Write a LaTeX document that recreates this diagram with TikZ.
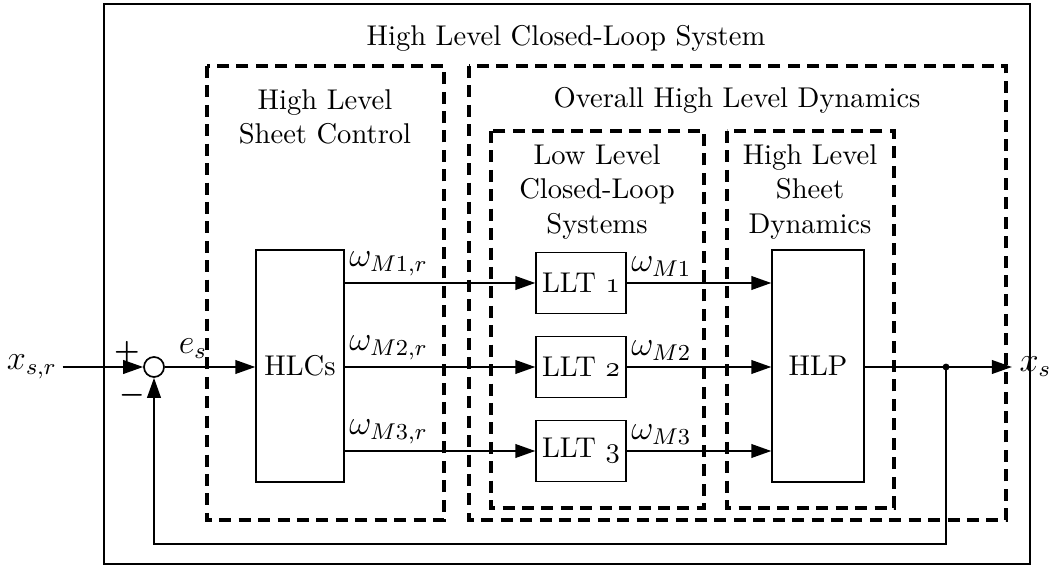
\documentclass[tikz,border=0pt]{standalone}
\usepackage{amsmath}
\usetikzlibrary{arrows.meta,calc}
\begin{document}
\begin{tikzpicture}[x=0.35pt,y=-0.35pt,
  thinbox/.style={draw,line width=0.5pt},
  dbox/.style={draw,line width=1.4pt,dash pattern=on 4.2pt off 2.6pt},
  blk/.style={draw,line width=0.5pt,inner sep=0pt,font=\normalsize},
  sig/.style={line width=0.6pt,-{Triangle[length=7pt,width=4.8pt]}},
  lbl/.style={inner sep=0pt,align=center,font=\normalsize},
  mlbl/.style={inner sep=0pt},
  wlbl/.style={inner sep=0pt,anchor=south west,font=\large}]
\useasboundingbox (0,0) rectangle (1052,567);
% containers
\draw[thinbox] (104,4) rectangle (1030,564);
\draw[dbox] (207,66) rectangle (444,520);
\draw[dbox] (469,66) rectangle (1006,520);
\draw[dbox] (491,131) rectangle (704,508);
\draw[dbox] (727,131) rectangle (894,508);
% titles
\node[lbl] (t0) at (566,38) {High Level Closed-Loop System};
\node[lbl] (t1) at (325,117) {High Level\\Sheet Control};
\node[lbl] (t2) at (737,100) {Overall High Level Dynamics};
\node[lbl] (t3) at (597,192) {Low Level\\Closed-Loop\\Systems};
\node[lbl] (t4) at (810,192) {High Level\\Sheet\\Dynamics};
% blocks
\node[blk,minimum width=30.8pt,minimum height=81.2pt] (hlc) at (300,366) {HLCs};
\node[blk,minimum width=31.5pt,minimum height=21.3pt] (l1) at (581,283) {LLT $\oldstylenums{1}$};
\node[blk,minimum width=31.5pt,minimum height=21.3pt] (l2) at (581,367) {LLT $\oldstylenums{2}$};
\node[blk,minimum width=31.5pt,minimum height=21.3pt] (l3) at (581,451) {LLT $\oldstylenums{3}$};
\node[blk,minimum width=32.2pt,minimum height=81.2pt] (hlp) at (818,366) {HLP};
% summing junction
\node[draw,circle,line width=0.6pt,minimum size=7pt,inner sep=0pt] (sum) at (154,367) {};
\node[mlbl,font=\large] (xsr) at (32,367) {$x_{s,r}$};
\node[mlbl,anchor=west,font=\large] (xs) at (1019,367) {$x_s$};
\node[mlbl,font=\large] (es) at (193,349) {$e_s$};
\node[mlbl] (plus) at (127,352) {$\boldsymbol{+}$};
\node[mlbl] (minus) at (132,395) {$\boldsymbol{-}$};
\coordinate (br) at (946,367);
\coordinate (fb1) at (946,544);
\coordinate (fb2) at (154,544);
% signals
\draw[sig] (xsr.east) ++(5,0) -- (sum.west);
\draw[sig] (sum.east) -- (hlc.west |- sum);
\draw[sig] (hlc.east |- l1) -- (l1.west);
\draw[sig] (hlc.east |- l2) -- (l2.west);
\draw[sig] (hlc.east |- l3) -- (l3.west);
\node[wlbl] (w1r) at ($(hlc.east |- l1)+(4,-6)$) {$\omega_{M1,r}$};
\node[wlbl] (w2r) at ($(hlc.east |- l2)+(4,-6)$) {$\omega_{M2,r}$};
\node[wlbl] (w3r) at ($(hlc.east |- l3)+(4,-6)$) {$\omega_{M3,r}$};
\draw[sig] (l1.east) -- (hlp.west |- l1);
\draw[sig] (l2.east) -- (hlp.west |- l2);
\draw[sig] (l3.east) -- (hlp.west |- l3);
\node[wlbl] (w1) at ($(l1.east)+(4,-6)$) {$\omega_{M1}$};
\node[wlbl] (w2) at ($(l2.east)+(4,-6)$) {$\omega_{M2}$};
\node[wlbl] (w3) at ($(l3.east)+(4,-6)$) {$\omega_{M3}$};
\draw[sig,shorten >=2.5pt] (hlp.east |- br) -- (xs.west);
\fill (br) circle (1.2pt);
\draw[sig] (br) -- (fb1) -- (fb2) -- (sum.south);
\end{tikzpicture}
\end{document}
